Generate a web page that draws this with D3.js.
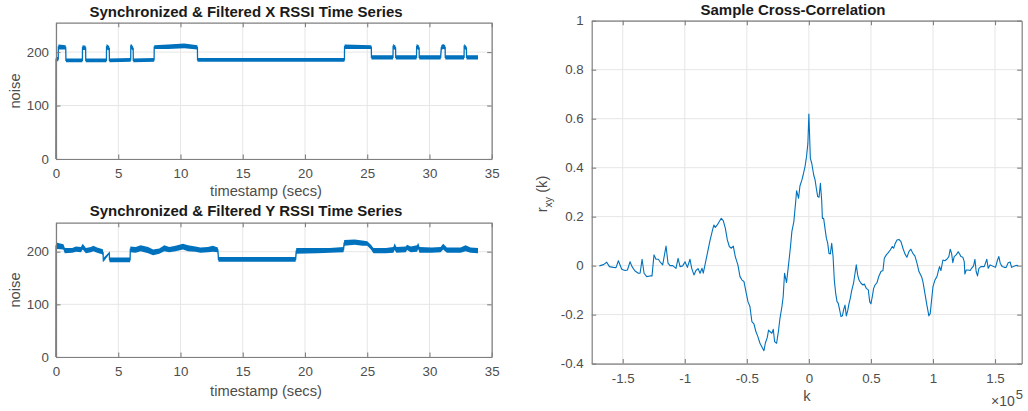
<!DOCTYPE html>
<html>
<head>
<meta charset="utf-8">
<script src="https://cdn.jsdelivr.net/npm/d3@7"></script>
<style>
  body { margin: 0; background: #fff; }
  text { font-family: "Liberation Sans", Arial, Helvetica, sans-serif; }
</style>
</head>
<body>
<svg id="fig" width="1028" height="411"></svg>
<script>
// ---- X RSSI series: breakpoints (secs) with lower / upper edge of the noise band
const xTime = [0, 0.01, 0.18, 0.19, 0.78, 0.80, 2.12, 2.13, 2.38, 2.39, 4.05, 4.06, 4.28, 4.29,
  6.00, 6.01, 6.20, 6.21, 7.88, 7.89, 9.0, 10.3, 11.36, 11.37, 23.17, 23.18, 25.33, 25.34,
  27.07, 27.08, 27.28, 27.29, 28.96, 28.97, 29.17, 29.18, 30.90, 30.95, 31.10, 31.26, 31.27,
  32.78, 32.79, 32.97, 32.98, 33.9];
const xLow = [0, 183, 183, 205, 205, 181, 181, 204, 204, 181, 181, 205, 203, 181,
  182, 206, 203, 181, 182, 206, 206, 207, 205, 182, 182, 206, 206, 186,
  186, 206, 204, 186, 186, 206, 204, 186, 186, 204, 206, 205, 186,
  186, 206, 204, 186, 186];
const xHigh = [0, 191, 191, 214, 213, 188, 188, 213, 212, 188, 188, 215, 211, 188,
  189, 216, 210, 188, 189, 213, 214, 216, 213, 189, 189, 214, 213, 194,
  194, 215, 212, 194, 194, 215, 212, 194, 194, 213, 215, 213, 194,
  194, 215, 211, 194, 194];

// ---- Y RSSI series
const yTime = [0, 0.01, 0.08, 0.60, 0.70, 1.30, 1.60, 2.00, 2.15, 2.40,
  2.80, 3.00, 3.30, 3.70, 3.78, 3.80, 4.28, 4.30, 5.95, 5.97,
  6.40, 6.80, 7.40, 7.80, 8.30, 8.70, 9.10, 9.60, 10.20, 10.60,
  11.20, 11.60, 12.20, 12.60, 13.00, 13.05, 19.25, 19.30, 21.00, 22.00,
  23.10, 23.15, 24.00, 24.60, 25.00, 25.30, 25.50, 26.50, 27.10, 27.20,
  27.35, 28.10, 28.20, 28.50, 29.00, 29.10, 29.20, 30.20, 30.90, 31.10,
  31.40, 32.50, 32.90, 33.30, 33.90];
const yLow = [0, 200, 205, 204, 197, 198, 200, 199, 204, 197,
  199, 201, 198, 195, 193, 180, 196, 180, 180, 199,
  198, 201, 197, 193, 196, 201, 199, 201, 204, 201,
  200, 198, 199, 200, 199, 181, 181, 196, 197, 198,
  199, 211, 213, 211, 211, 204, 197, 197, 198, 203,
  198, 199, 203, 199, 200, 205, 198, 198, 199, 204,
  198, 198, 201, 198, 197];
const yHigh = [0, 222, 217, 214, 207, 207, 210, 209, 215, 207,
  209, 211, 208, 205, 204, 188, 199, 189, 189, 210,
  209, 212, 209, 204, 206, 212, 209, 211, 215, 212,
  210, 208, 209, 211, 208, 190, 190, 207, 207, 207,
  209, 222, 223, 221, 220, 213, 207, 207, 209, 216,
  209, 210, 213, 210, 212, 217, 209, 208, 209, 215,
  208, 208, 212, 208, 207];

// ---- Sample cross-correlation r_xy(k), lag k in units of 10^5
const lagE5 = [-1.688, -1.655, -1.629, -1.607, -1.575, -1.554, -1.535, -1.508, -1.481, -1.462,
  -1.441, -1.425, -1.401, -1.374, -1.360, -1.344, -1.328, -1.307, -1.280, -1.264,
  -1.248, -1.232, -1.213, -1.194, -1.178, -1.151, -1.135, -1.119, -1.097, -1.071,
  -1.054, -1.038, -1.017, -0.998, -0.979, -0.958, -0.944, -0.926, -0.910, -0.893,
  -0.877, -0.861, -0.851, -0.837, -0.818, -0.797, -0.775, -0.765, -0.754, -0.738,
  -0.722, -0.706, -0.690, -0.673, -0.657, -0.641, -0.625, -0.609, -0.593, -0.572,
  -0.555, -0.539, -0.523, -0.507, -0.491, -0.475, -0.459, -0.443, -0.427, -0.411,
  -0.394, -0.373, -0.362, -0.351, -0.335, -0.325, -0.314, -0.298, -0.287, -0.276,
  -0.260, -0.244, -0.233, -0.217, -0.207, -0.196, -0.180, -0.164, -0.148, -0.137,
  -0.121, -0.105, -0.099, -0.083, -0.072, -0.056, -0.046, -0.030, -0.019, -0.008,
  0,
  0.012, 0.023, 0.039, 0.050, 0.060, 0.071, 0.082, 0.093, 0.103, 0.109,
  0.119, 0.130, 0.141, 0.152, 0.162, 0.173, 0.184, 0.195, 0.205, 0.216,
  0.227, 0.237, 0.248, 0.259, 0.270, 0.280, 0.291, 0.302, 0.313, 0.323,
  0.334, 0.345, 0.361, 0.372, 0.382, 0.393, 0.404, 0.420, 0.436, 0.447,
  0.463, 0.479, 0.490, 0.500, 0.511, 0.522, 0.533, 0.549, 0.565, 0.581,
  0.597, 0.608, 0.624, 0.640, 0.656, 0.672, 0.683, 0.694, 0.710, 0.726,
  0.742, 0.758, 0.774, 0.790, 0.806, 0.822, 0.838, 0.855, 0.871, 0.887,
  0.908, 0.919, 0.935, 0.951, 0.967, 0.978, 0.989, 1.000, 1.016, 1.032,
  1.042, 1.053, 1.064, 1.080, 1.096, 1.112, 1.128, 1.139, 1.150, 1.160,
  1.171, 1.187, 1.203, 1.214, 1.225, 1.241, 1.252, 1.257, 1.268, 1.284,
  1.300, 1.311, 1.327, 1.338, 1.348, 1.359, 1.370, 1.386, 1.402, 1.413,
  1.423, 1.434, 1.445, 1.461, 1.477, 1.488, 1.504, 1.520, 1.531, 1.542,
  1.558, 1.574, 1.590, 1.606, 1.622, 1.633, 1.649, 1.665, 1.686];
const rxy = [-0.001, 0.004, 0.014, -0.004, -0.007, -0.008, 0.020, -0.015, -0.020, -0.018,
  0.016, -0.004, -0.022, -0.031, -0.031, 0.026, -0.031, -0.045, -0.042, -0.042,
  0.044, 0.026, 0.026, 0.012, 0.003, 0.080, 0.010, 0, 0, -0.011,
  0.030, -0.004, -0.001, 0.016, -0.007, 0.026, -0.011, -0.038, -0.020, -0.012,
  -0.031, -0.011, -0.031, 0.003, 0.050, 0.102, 0.148, 0.166, 0.156, 0.166,
  0.180, 0.193, 0.184, 0.152, 0.105, 0.078, 0.071, 0.080, 0.037, 0.003,
  -0.045, -0.059, -0.065, -0.106, -0.147, -0.167, -0.229, -0.238, -0.269, -0.290,
  -0.317, -0.337, -0.347, -0.317, -0.293, -0.263, -0.269, -0.276, -0.260, -0.310,
  -0.317, -0.263, -0.215, -0.167, -0.127, -0.031, -0.069, 0.003, 0.078, 0.139,
  0.180, 0.268, 0.306, 0.275, 0.325, 0.350, 0.370, 0.407, 0.445, 0.499,
  0.619,
  0.438, 0.418, 0.370, 0.350, 0.316, 0.282, 0.279, 0.336, 0.268, 0.193,
  0.193, 0.152, 0.112, 0.091, 0.050, 0.048, 0.091, 0.037, -0.059, -0.113,
  -0.147, -0.154, -0.181, -0.208, -0.205, -0.181, -0.161, -0.205, -0.184, -0.156,
  -0.133, -0.102, -0.069, -0.031, 0.003, -0.038, -0.059, -0.072, -0.079, -0.075,
  -0.093, -0.099, -0.147, -0.156, -0.127, -0.093, -0.079, -0.069, -0.042, -0.024,
  -0.020, 0.030, 0.044, 0.053, 0.064, 0.078, 0.071, 0.088, 0.105, 0.107,
  0.098, 0.071, 0.048, 0.034, 0.057, 0.067, 0.050, 0.039, 0.010, -0.024,
  -0.045, -0.065, -0.113, -0.161, -0.205, -0.195, -0.140, -0.086, -0.059, -0.045,
  -0.024, -0.004, -0.020, 0.023, 0.020, 0.026, 0.037, 0.067, 0.050, 0.012,
  0.037, 0.044, 0.057, 0.048, 0.037, 0.034, 0.016, -0.034, -0.018, -0.018,
  -0.020, -0.011, -0.001, 0.026, -0.024, -0.042, -0.011, -0.004, -0.004, -0.004,
  0.010, 0.026, -0.011, 0.003, -0.001, -0.004, -0.007, 0.023, 0.037, 0.010,
  -0.004, -0.007, -0.007, 0.012, 0.015, -0.007, -0.004, 0, 0.001];

// ---- tick values
const timeTicks = [0, 5, 10, 15, 20, 25, 30, 35];
const noiseTicks = [0, 100, 200];
const lagTicks = [-1.5, -1, -0.5, 0, 0.5, 1, 1.5];
const corrTicks = [-0.4, -0.2, 0, 0.2, 0.4, 0.6, 0.8, 1];

const BLUE = "#0072BD";
const GRID = "#e6e6e6";
const AXIS = "#7f7f7f";
const TICKTXT = "#4d4d4d";
const svg = d3.select("#fig");

// light grid lines at every tick
function drawGrid(g, x, y, xt, yt) {
  const [x0, x1] = x.range(), [yb, yt0] = y.range();
  g.append("g").selectAll("line").data(xt).join("line")
    .attr("x1", d => x(d)).attr("x2", d => x(d)).attr("y1", yt0).attr("y2", yb)
    .attr("stroke", GRID).attr("stroke-width", 1);
  g.append("g").selectAll("line").data(yt).join("line")
    .attr("y1", d => y(d)).attr("y2", d => y(d)).attr("x1", x0).attr("x2", x1)
    .attr("stroke", GRID).attr("stroke-width", 1);
}
// box with inward ticks on all four sides, labels on bottom and left
function drawAxes(g, x, y, xt, yt, xfmt, yfmt, ypad) {
  const [x0, x1] = x.range(), [yb, yt0] = y.range();
  const style = sel => {
    sel.select(".domain").attr("stroke", AXIS).attr("stroke-width", 1.2);
    sel.selectAll(".tick line").attr("stroke", AXIS).attr("stroke-width", 1.1);
    sel.selectAll(".tick text").attr("fill", TICKTXT).attr("font-size", 13.3);
  };
  g.append("g").attr("transform", `translate(0,${yb})`)
    .call(d3.axisBottom(x).tickValues(xt).tickFormat(xfmt).tickSize(-4.5).tickSizeOuter(0).tickPadding(10))
    .call(style);
  g.append("g").attr("transform", `translate(0,${yt0})`)
    .call(d3.axisTop(x).tickValues(xt).tickFormat("").tickSize(-4.5).tickSizeOuter(0))
    .call(style);
  g.append("g").attr("transform", `translate(${x0},0)`)
    .call(d3.axisLeft(y).tickValues(yt).tickFormat(yfmt).tickSize(-4.5).tickSizeOuter(0).tickPadding(ypad))
    .call(style);
  g.append("g").attr("transform", `translate(${x1},0)`)
    .call(d3.axisRight(y).tickValues(yt).tickFormat("").tickSize(-4.5).tickSizeOuter(0))
    .call(style);
}

function title(txt, x, y) {
  svg.append("text").attr("x", x).attr("y", y).attr("text-anchor", "middle")
    .attr("font-size", 15).attr("font-weight", "bold").attr("fill", "#1a1a1a").text(txt);
}
function label(txt, x, y, rot) {
  return svg.append("text").attr("text-anchor", "middle").attr("font-size", 14.7)
    .attr("fill", TICKTXT)
    .attr("transform", `translate(${x},${y})` + (rot ? " rotate(-90)" : ""))
    .text(txt);
}

// ---- RSSI time-series panels
function rssiPanel(times, lo, hi, top, bottom, ttl, titleY, xlabY, ylabY) {
  const x = d3.scaleLinear().domain([0, 35]).range([56, 491.7]);
  const y = d3.scaleLinear().domain([0, 255]).range([bottom, top]);
  const g = svg.append("g");
  drawGrid(g, x, y, timeTicks, noiseTicks);
  const pts = times.map((t, i) => ({ t, lo: lo[i], hi: hi[i] }));
  g.append("path").datum(pts)
    .attr("d", d3.area().x(d => x(d.t)).y0(d => y(d.lo)).y1(d => y(d.hi)))
    .attr("fill", BLUE);
  g.append("path").datum(pts)
    .attr("d", d3.line().x(d => x(d.t)).y(d => y((d.lo + d.hi) / 2)))
    .attr("fill", "none").attr("stroke", BLUE).attr("stroke-width", 1.3);
  drawAxes(g, x, y, timeTicks, noiseTicks, d3.format("d"), d3.format("d"), 7);
  title(ttl, 246, titleY);
  label("timestamp (secs)", 266, xlabY, false);
  label("noise", 19.5, ylabY, true);
}
rssiPanel(xTime, xLow, xHigh, 22.7, 159, "Synchronized & Filtered X RSSI Time Series", 16.5, 196, 91);
rssiPanel(yTime, yLow, yHigh, 222.7, 357, "Synchronized & Filtered Y RSSI Time Series", 216, 396, 290);

// ---- cross-correlation panel
{
  const x = d3.scaleLinear().domain([-1.75, 1.715]).range([591.7, 1021.7]);
  const y = d3.scaleLinear().domain([-0.4, 1]).range([363.6, 20.7]);
  const g = svg.append("g");
  drawGrid(g, x, y, lagTicks, corrTicks);
  const pts = lagE5.map((k, i) => ({ k, r: rxy[i] }));
  g.append("path").datum(pts)
    .attr("d", d3.line().x(d => x(d.k)).y(d => y(d.r)))
    .attr("fill", "none").attr("stroke", BLUE).attr("stroke-width", 1.1)
    .attr("stroke-linejoin", "round");
  drawAxes(g, x, y, lagTicks, corrTicks, d => String(d), d => String(d), 8);
  title("Sample Cross-Correlation", 793, 15);
  label("k", 807, 401, false);
  // r_xy (k) with subscript
  const yl = svg.append("text").attr("text-anchor", "middle").attr("font-size", 14.7)
    .attr("fill", TICKTXT).attr("transform", "translate(547,194) rotate(-90)");
  yl.append("tspan").text("r");
  yl.append("tspan").attr("font-size", 10.5).attr("dy", 5).text("xy");
  yl.append("tspan").attr("dy", -5).text(" (k)");
  // exponent multiplier for the lag axis
  const ex = svg.append("text").attr("x", 991).attr("y", 405.5).attr("font-size", 14).attr("fill", TICKTXT);
  ex.append("tspan").text("\u00d710");
  ex.append("tspan").attr("dx", 1).attr("dy", -6.5).attr("font-size", 13).text("5");
}
</script>
</body>
</html>
